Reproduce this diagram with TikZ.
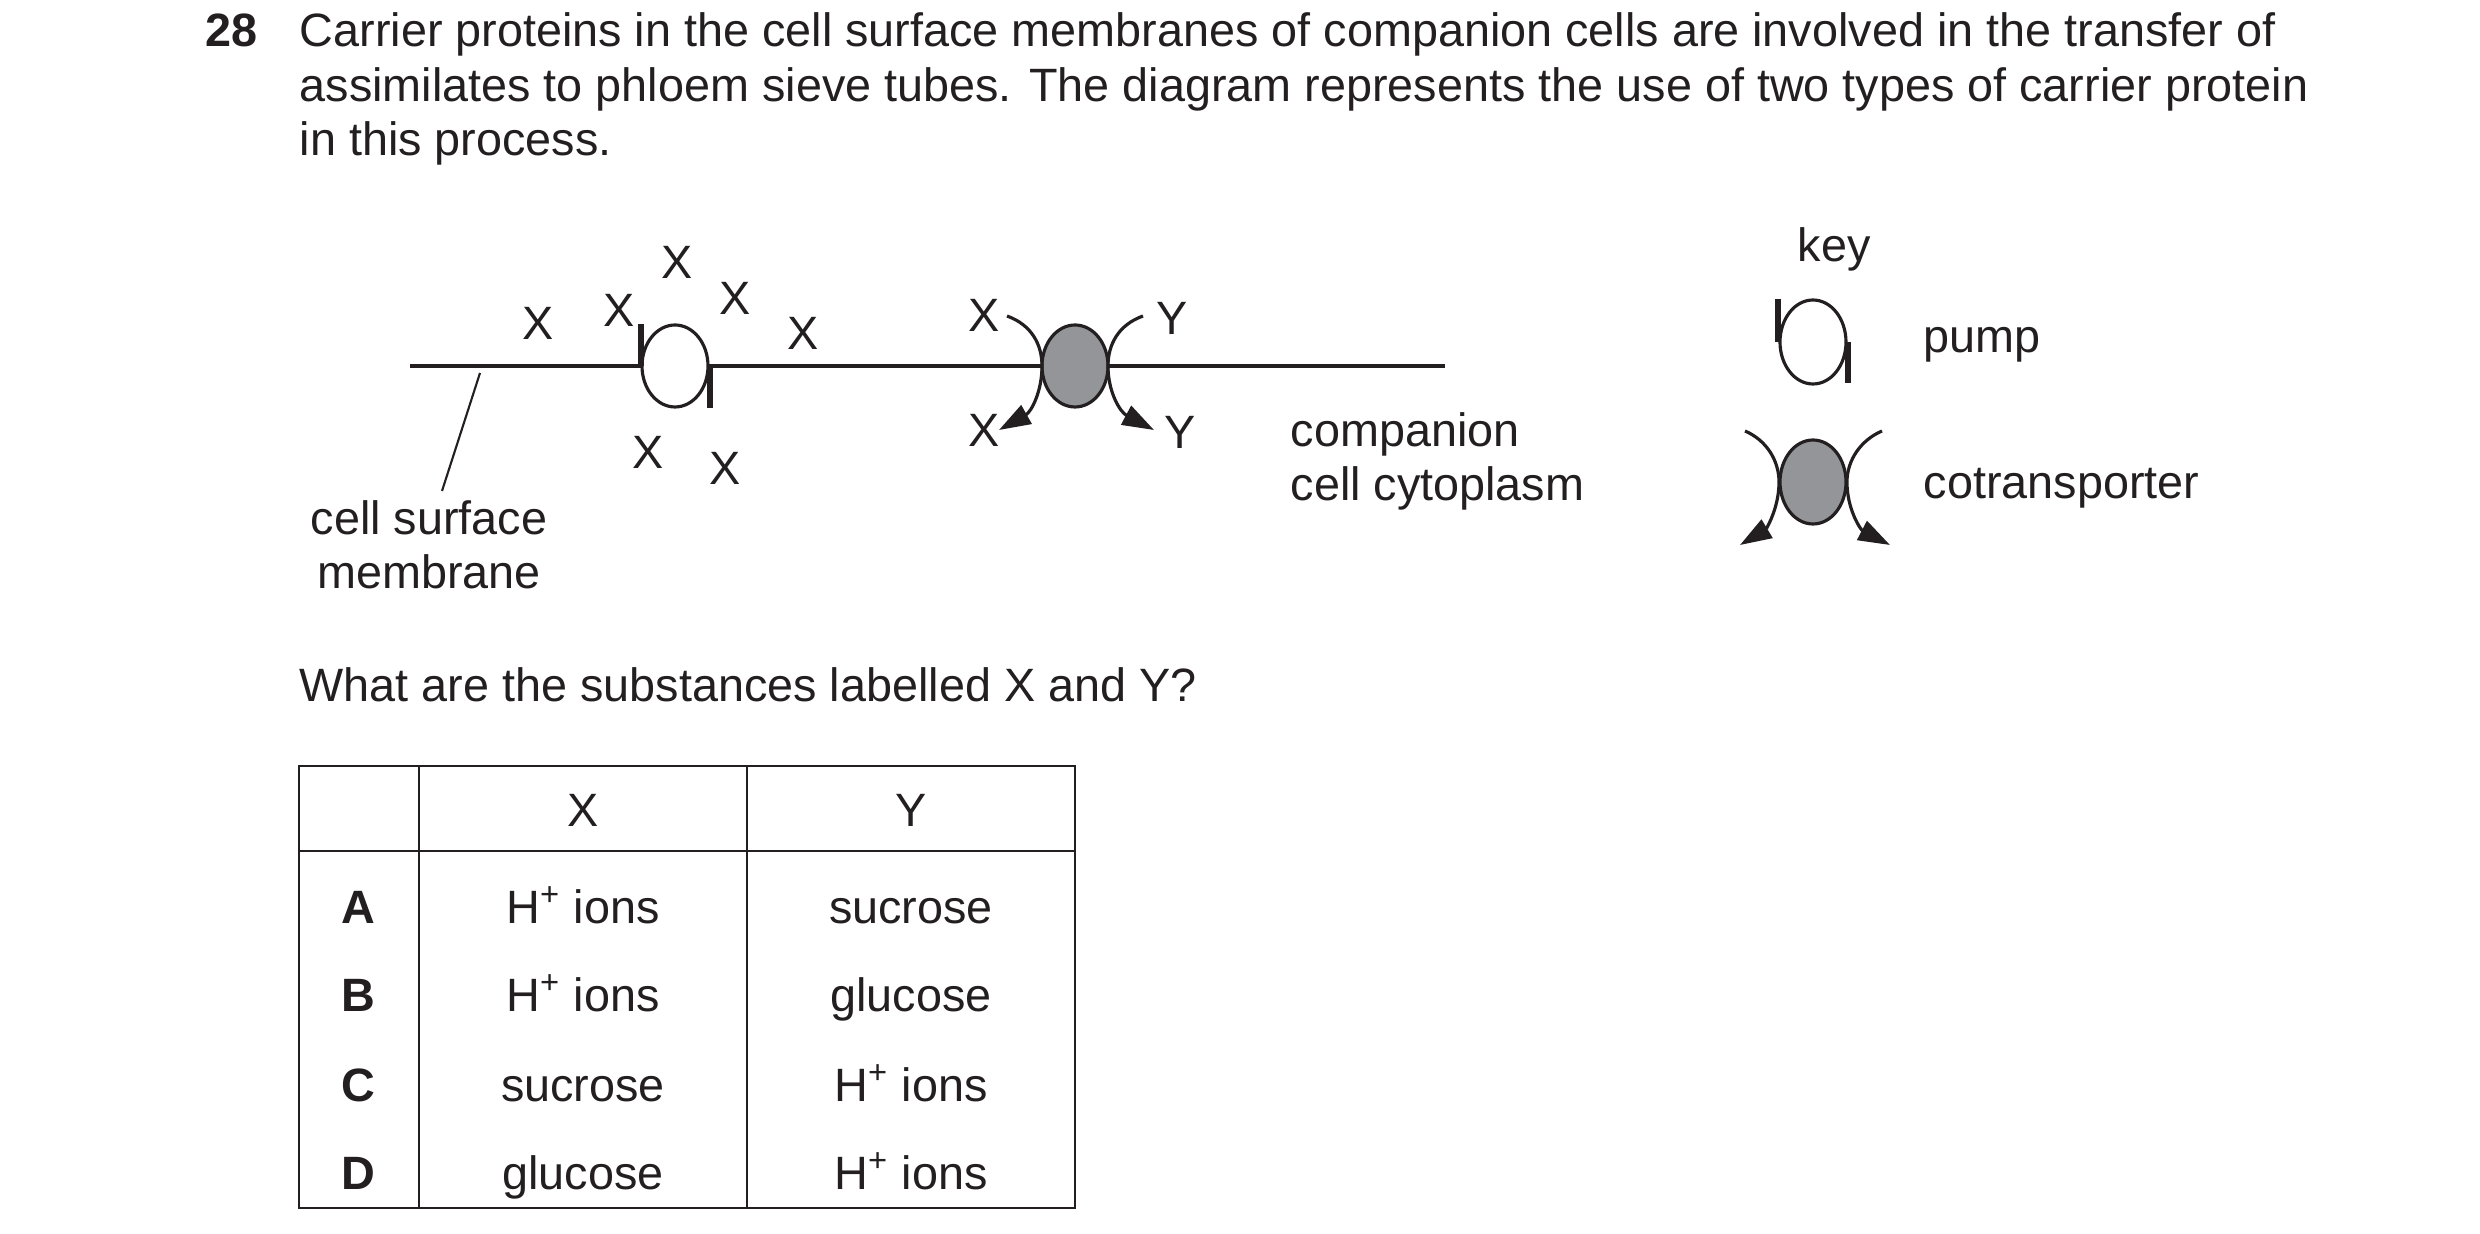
\documentclass[tikz,border=0pt]{standalone}
\usepackage{fontspec}
\setmainfont{Liberation Sans}
\usetikzlibrary{arrows.meta}
\definecolor{inkdark}{HTML}{231F20}
\definecolor{proteingrey}{HTML}{939598}

\begin{document}
\begin{tikzpicture}[x=0.01cm,y=-0.01cm,
    txt/.style={font=\fontsize{13.3}{15.4}\selectfont, color=inkdark, inner sep=0pt, text height=9.5pt, text depth=0pt},
    multi/.style={font=\fontsize{13.3}{15.4}\selectfont, color=inkdark, inner sep=0pt},
    membrane/.style={line width=0.9pt, inkdark},
    tick/.style={line width=1.5pt, inkdark},
    flow/.style={line width=0.9pt, inkdark, -{Triangle[length=9pt,width=6pt]}}]
    \useasboundingbox (0,0) rectangle (2480,1234);

    % Question text
    \node[txt, font=\fontsize{13.3}{15.4}\selectfont\bfseries] (qnum) at (232,30) {28};
    \node[txt, anchor=west] (line1) at (299,30) {Carrier proteins in the cell surface membranes of companion cells are involved in the transfer of};
    \node[txt, anchor=west] (line2) at (299,85) {assimilates to phloem sieve tubes. The diagram represents the use of two types of carrier protein};
    \node[txt, anchor=west] (line3) at (299,139) {in this process.};

    % Membrane
    \draw[membrane] (410,366) -- (642,366);
    \draw[membrane] (708,366) -- (1042,366);
    \draw[membrane] (1108,366) -- (1445,366);

    % Pump
    \draw[membrane] (675,366) ellipse (33 and 41);
    \draw[tick] (641,324) -- (641,366);
    \draw[tick] (710,366) -- (710,408);

    % Cotransporter
    \draw[membrane, fill=proteingrey] (1075,366) ellipse (33 and 41);
    \draw[flow] (1007,316) .. controls (1032,325) and (1042,345) .. (1042,366)
        .. controls (1042,392) and (1031,412) .. (999,430);
    \draw[flow] (1143,316) .. controls (1118,325) and (1108,345) .. (1108,366)
        .. controls (1108,392) and (1120,412) .. (1154,430);

    % Substances
    \foreach \px/\py in {538/323,619/310,677/262,735/298,803/333,648/452,725/468,984/315,984/430}
        \node[txt] at (\px,\py) {X};
    \node[txt] (yout) at (1172,318) {Y};
    \node[txt] (yin) at (1180,432) {Y};

    % Labels
    \node[multi, align=center] (csm) at (429,545) {cell surface\\membrane};
    \coordinate (csmend) at (480,373);
    \draw[line width=0.6pt, inkdark] (csmend) -- (442,491);
    \node[multi, align=left, anchor=west] (cyto) at (1290,461) {companion\\cell cytoplasm};

    % Key
    \node[txt] (key) at (1834,245) {key};
    \draw[membrane] (1813,342) ellipse (33 and 42);
    \draw[tick] (1778,299) -- (1778,342);
    \draw[tick] (1848,342) -- (1848,383);
    \node[txt, anchor=west] (pump) at (1923,336) {pump};
    \draw[membrane, fill=proteingrey] (1813,482) ellipse (33 and 42);
    \draw[flow] (1745,431) .. controls (1766,440) and (1779,460) .. (1779,482)
        .. controls (1779,510) and (1765,530) .. (1740,545);
    \draw[flow] (1882,431) .. controls (1861,440) and (1847,460) .. (1847,482)
        .. controls (1847,510) and (1861,530) .. (1890,545);
    \node[txt, anchor=west] (cotr) at (1923,482) {cotransporter};

    % Question and table
    \node[txt, anchor=west] (ask) at (299,685) {What are the substances labelled X and Y?};
    \draw[membrane, line width=0.7pt] (299,766) rectangle (1075,1208);
    \draw[membrane, line width=0.7pt] (299,851) -- (1075,851);
    \draw[membrane, line width=0.7pt] (419,766) -- (419,1208);
    \draw[membrane, line width=0.7pt] (747,766) -- (747,1208);
    \node[txt] (hx) at (583,810) {X};
    \node[txt] (hy) at (911,810) {Y};
    \foreach \ry/\lt/\cx/\cy in {907/A/H\textsuperscript{+} ions/sucrose,995/B/H\textsuperscript{+} ions/glucose,1085/C/sucrose/H\textsuperscript{+} ions,1173/D/glucose/H\textsuperscript{+} ions} {
        \node[txt, font=\fontsize{13.3}{15.4}\selectfont\bfseries] at (358,\ry) {\lt};
        \node[txt] at (583,\ry) {\cx};
        \node[txt] at (911,\ry) {\cy};
    }
\end{tikzpicture}
\end{document}
